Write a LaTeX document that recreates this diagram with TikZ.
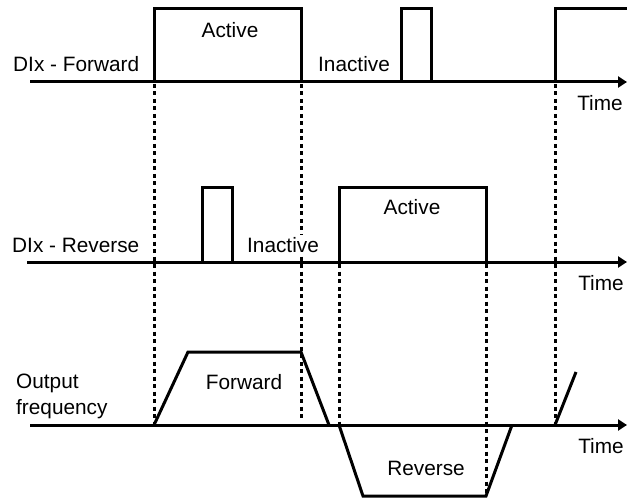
\documentclass[tikz,border=0pt]{standalone}
\usepackage{fontspec}
\setmainfont{Liberation Sans}
\usetikzlibrary{arrows.meta}
\begin{document}
\begin{tikzpicture}[x=1pt,y=-1pt,
  sig/.style={line width=3pt, line join=miter},
  axis/.style={line width=3pt,-{Triangle[length=9pt,width=11pt]}},
  guide/.style={line width=3pt, dash pattern=on 4pt off 3.5pt},
  lbl/.style={font=\fontsize{20.8}{26}\selectfont, inner sep=0pt}]
\useasboundingbox (0,0) rectangle (627,500);
% axes
\coordinate (a1s) at (30,82);  \coordinate (a1e) at (627,82);
\coordinate (a2s) at (27,262); \coordinate (a2e) at (627,262);
\coordinate (a3s) at (30,425); \coordinate (a3e) at (627,425);
% guides
\coordinate (g1t) at (154,84);  \coordinate (g1b) at (154,425);
\coordinate (g2t) at (301,84);  \coordinate (g2b) at (301,418);
\coordinate (g3t) at (339,264); \coordinate (g3b) at (339,425);
\coordinate (g4t) at (486,264); \coordinate (g4b) at (486,496);
\coordinate (g5t) at (555,84);  \coordinate (g5b) at (555,425);
\draw[guide] (g1t) -- (g1b);
\draw[guide] (g2t) -- (g2b);
\draw[guide] (g3t) -- (g3b);
\draw[guide] (g4t) -- (g4b);
\draw[guide] (g5t) -- (g5b);
% labels
\node[lbl] (act1) at (230,30) {Active};
\node[lbl,anchor=west] (fwd) at (13,64) {DIx - Forward};
\node[lbl] (inact1) at (354,64) {Inactive};
\node[lbl] (time1) at (600,103) {Time};
\node[lbl] (act2) at (412,207) {Active};
\node[lbl,anchor=west] (rev) at (12,245) {DIx - Reverse};
\node[lbl,fill=white,inner sep=2pt] (inact2) at (283,245) {Inactive};
\node[lbl] (time2) at (601,283) {Time};
\node[lbl,anchor=west,align=left] (outf) at (16,396) {Output\\frequency};
\node[lbl] (fwdl) at (244,382) {Forward};
\node[lbl] (revl) at (426,468) {Reverse};
\node[lbl] (time3) at (601,446) {Time};
% axes drawn
\draw[axis] (a1s) -- (a1e);
\draw[axis] (a2s) -- (a2e);
\draw[axis] (a3s) -- (a3e);
% top signal
\draw[sig] (154,82) -- (154,9) -- (301,9) -- (301,82);
\draw[sig] (401,82) -- (401,9) -- (431,9) -- (431,82);
\draw[sig] (555,82) -- (555,9) -- (628,9);
% middle signal
\draw[sig] (202,262) -- (202,188) -- (232,188) -- (232,262);
\draw[sig] (339,262) -- (339,188) -- (486,188) -- (486,262);
% output frequency
\draw[sig] (154,425) -- (188,352) -- (301,352) -- (329,425);
\draw[sig] (339,425) -- (363,496) -- (486,496) -- (512,425);
\draw[sig] (555,425) -- (576,372);
\end{tikzpicture}
\end{document}
